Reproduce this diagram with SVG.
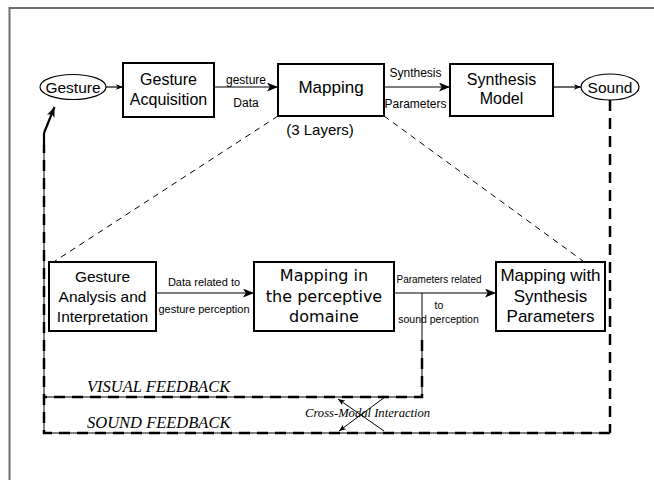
<svg xmlns="http://www.w3.org/2000/svg" width="654" height="480" viewBox="0 0 654 480">
<defs>
<marker id="ah" markerUnits="userSpaceOnUse" viewBox="0 0 10 8" refX="10" refY="4" markerWidth="11" markerHeight="9" orient="auto"><path d="M0,0 L10,4 L0,8 L2.5,4 z" fill="#000"/></marker>
<marker id="ahs" markerUnits="userSpaceOnUse" viewBox="0 0 10 8" refX="10" refY="4" markerWidth="7" markerHeight="6" orient="auto"><path d="M0,0 L10,4 L0,8 L2.5,4 z" fill="#000"/></marker>
<marker id="ahb" markerUnits="userSpaceOnUse" viewBox="0 0 10 8" refX="10" refY="4" markerWidth="12" markerHeight="8" orient="auto"><path d="M0,0 L10,4 L0,8 L2.5,4 z" fill="#000"/></marker>
</defs>
<style>
.box{fill:#fff;stroke:#000;stroke-width:2}
.ell{fill:#fff;stroke:#000;stroke-width:1.2}
.t{font-family:"Liberation Sans",Arial,sans-serif;fill:#000;text-anchor:middle}
.w{font-family:"DejaVu Sans",Verdana,sans-serif;fill:#000;text-anchor:middle}
.fb{font-family:"Liberation Serif","Times New Roman",serif;font-style:italic;fill:#000}
.ln{fill:none;stroke:#000;stroke-width:1.2}
.thin{fill:none;stroke:#000;stroke-width:1}
.dash{fill:none;stroke:#000;stroke-width:1;stroke-dasharray:6,5}
.fbd{fill:none;stroke:#000;stroke-width:2.5;stroke-dasharray:11,7}
</style>
<rect x="9.5" y="8" width="700" height="520" fill="none" stroke="#707070" stroke-width="2"/>

<g id="connectors">
<line class="ln" x1="106" y1="87" x2="123" y2="87" marker-end="url(#ahs)"/>
<line class="ln" x1="214" y1="87" x2="278" y2="87" marker-end="url(#ah)"/>
<line class="ln" x1="384" y1="87" x2="450" y2="87" marker-end="url(#ah)"/>
<line class="ln" x1="553" y1="87" x2="581" y2="87" marker-end="url(#ahs)"/>
<line class="ln" x1="156" y1="293" x2="254" y2="293" marker-end="url(#ah)"/>
<line class="ln" x1="394" y1="293" x2="496" y2="293" marker-end="url(#ah)"/>
<line class="dash" x1="278" y1="116" x2="52" y2="263"/>
<line class="dash" x1="384" y1="116" x2="583" y2="261"/>
<!-- visual feedback -->
<polyline class="thin" points="422,293 422,397 44,397"/>
<polyline class="fbd" points="422,340 422,397 44,397"/>
<!-- sound feedback -->
<polyline class="fbd" points="610,100 610,433"/>
<polyline class="thin" points="610,433 44,433 44,133"/>
<polyline class="fbd" points="610,433 44,433 44,145"/>
<line x1="44" y1="133" x2="54.5" y2="107" stroke="#000" stroke-width="2.2" marker-end="url(#ahb)"/>
<line x1="44" y1="133" x2="44" y2="145" stroke="#000" stroke-width="2.2"/>
<!-- cross-modal -->
<line class="thin" x1="385" y1="397" x2="339" y2="431" marker-end="url(#ahs)"/>
<line class="thin" x1="384" y1="431" x2="338" y2="399" marker-end="url(#ahs)"/>
</g>

<g id="gesture">
<ellipse class="ell" cx="73" cy="87" rx="33" ry="12.5"/>
<text class="t" x="73" y="92.5" font-size="15.5">Gesture</text>
</g>
<g id="acquisition">
<rect class="box" x="123" y="63" width="91" height="54"/>
<text class="t" x="168.5" y="85" font-size="16">Gesture</text>
<text class="t" x="168.5" y="105" font-size="16">Acquisition</text>
</g>
<g id="mapping">
<rect class="box" x="278" y="64" width="106" height="52"/>
<text class="t" x="331" y="93" font-size="17">Mapping</text>
<text class="t" x="320" y="135" font-size="15">(3 Layers)</text>
</g>
<g id="synthesis-model">
<rect class="box" x="450" y="64" width="103" height="52"/>
<text class="t" x="501.5" y="85" font-size="16">Synthesis</text>
<text class="t" x="501.5" y="104" font-size="16">Model</text>
</g>
<g id="sound">
<ellipse class="ell" cx="610" cy="87" rx="29" ry="13"/>
<text class="t" x="610" y="92.5" font-size="15.5">Sound</text>
</g>

<g id="analysis">
<rect class="box" x="49" y="262" width="107" height="69"/>
<text class="t" x="102.5" y="282" font-size="15.5">Gesture</text>
<text class="t" x="102.5" y="302" font-size="15.5">Analysis and</text>
<text class="t" x="102.5" y="322" font-size="15.5">Interpretation</text>
</g>
<g id="perceptive">
<rect class="box" x="254" y="262" width="140" height="69"/>
<text class="w" x="324" y="281" font-size="16">Mapping in</text>
<text class="w" x="324" y="302" font-size="16">the perceptive</text>
<text class="w" x="324" y="322" font-size="16">domaine</text>
</g>
<g id="synth-params">
<rect class="box" x="496" y="262" width="109" height="69"/>
<text class="t" x="550.5" y="281" font-size="17">Mapping with</text>
<text class="t" x="550.5" y="302" font-size="17">Synthesis</text>
<text class="t" x="550.5" y="322" font-size="17">Parameters</text>
</g>

<g id="labels">
<text class="t" x="246" y="84" font-size="12">gesture</text>
<text class="t" x="246" y="107" font-size="12">Data</text>
<text class="t" x="415.5" y="77" font-size="12">Synthesis</text>
<text class="t" x="415.5" y="108" font-size="12">Parameters</text>
<text class="t" x="204" y="286" font-size="11">Data related to</text>
<text class="t" x="204" y="313" font-size="11">gesture perception</text>
<text class="t" x="439" y="283" font-size="10">Parameters related</text>
<text class="t" x="439" y="309" font-size="10.5">to</text>
<text class="t" x="438.5" y="323" font-size="10.5">sound perception</text>
<text class="fb" x="87" y="392" font-size="16.5">VISUAL FEEDBACK</text>
<text class="fb" x="87" y="428" font-size="16.5">SOUND FEEDBACK</text>
<text class="fb" x="305" y="417" font-size="12.6">Cross-Modal Interaction</text>
</g>
</svg>
